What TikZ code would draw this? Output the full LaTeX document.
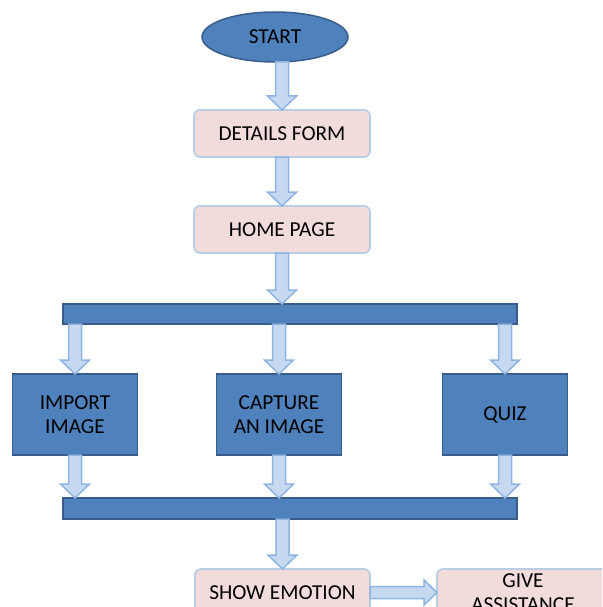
\documentclass[tikz,border=0pt]{standalone}
\usepackage{fontspec}
\setmainfont{Carlito}
\usetikzlibrary{positioning,shapes.geometric,calc}

\definecolor{darkblue}{HTML}{385D8A}
\definecolor{midblue}{HTML}{4F81BD}
\definecolor{paleblue}{HTML}{B9CDE5}
\definecolor{arrowfill}{HTML}{C6D9F1}
\definecolor{arrowline}{HTML}{8DB4E2}
\definecolor{pinkbox}{HTML}{F2DCDB}

% block arrow going down from #1 to #2 (x taken from #2)
\newcommand{\downblk}[2]{%
  \path[blkarrow] let \p1=(#1), \p2=(#2) in
    (\x2-6.5pt,\y1) -- (\x2-6.5pt,\y2+14pt) -- (\x2-14.5pt,\y2+14pt) -- (\x2,\y2)
    -- (\x2+14.5pt,\y2+14pt) -- (\x2+6.5pt,\y2+14pt) -- (\x2+6.5pt,\y1) -- cycle;}
% block arrow going right from #1 to #2 (y taken from #1)
\newcommand{\rightblk}[2]{%
  \path[blkarrow] let \p1=(#1), \p2=(#2) in
    (\x1,\y1+6pt) -- (\x2-13pt,\y1+6pt) -- (\x2-13pt,\y1+12.5pt) -- (\x2,\y1)
    -- (\x2-13pt,\y1-12.5pt) -- (\x2-13pt,\y1-6pt) -- (\x1,\y1-6pt) -- cycle;}

\begin{document}
\begin{tikzpicture}[%
    x=1pt,
    y=1pt,
    font=\fontsize{21.3}{24}\selectfont,
    every node/.style={outer sep=0pt, inner sep=0pt, align=center},
    startnode/.style={%
      ellipse,
      minimum width=146pt,
      minimum height=50pt,
      fill=midblue,
      draw=darkblue,
      line width=1.5pt
    },
    pagebox/.style={%
      rectangle,
      rounded corners=6pt,
      minimum width=176pt,
      minimum height=47pt,
      fill=pinkbox,
      draw=paleblue,
      line width=1.8pt
    },
    taskbox/.style={%
      rectangle,
      minimum width=125pt,
      minimum height=81pt,
      fill=midblue,
      draw=darkblue,
      line width=1.5pt
    },
    barbox/.style={%
      rectangle,
      minimum width=454pt,
      minimum height=20pt,
      fill=midblue,
      draw=darkblue,
      line width=1.5pt
    },
    blkarrow/.style={%
      fill=arrowfill,
      draw=arrowline,
      line width=1.5pt,
      line join=miter
    }
  ]
    \clip (0,0) rectangle (602,-607);

    \node[pagebox] (details) at (282,-133.5)                    {DETAILS FORM};
    \node[startnode] (start) [above=48pt of details, xshift=-7pt] {START};
    \node[pagebox] (home) [below=49pt of details]               {HOME PAGE};
    \node[barbox] (fork) [below=51pt of home, xshift=8pt]       {};
    \node[taskbox] (capture) [below=50pt of fork, xshift=-11pt] {CAPTURE\\AN IMAGE};
    \node[taskbox] (import) [left=79pt of capture]              {IMPORT\\IMAGE};
    \node[taskbox] (quiz) [right=101pt of capture]              {QUIZ};
    \node[barbox, minimum height=21pt] (join) [below=43pt of capture, xshift=11pt] {};
    \node[pagebox, minimum width=175pt] (emotion) [below=50pt of join, xshift=-7.5pt] {SHOW EMOTION};
    \node[pagebox, minimum width=172pt] (assist) [right=67pt of emotion] {GIVE\\ASSISTANCE};

    \downblk{start.south}{details.north}
    \downblk{details.south}{home.north}
    \downblk{home.south}{home.south |- fork.north}
    \downblk{fork.south}{import.north}
    \downblk{fork.south}{capture.north}
    \downblk{fork.south}{quiz.north}
    \downblk{import.south}{import.south |- join.north}
    \downblk{capture.south}{capture.south |- join.north}
    \downblk{quiz.south}{quiz.south |- join.north}
    \downblk{join.south}{emotion.north}
    \rightblk{emotion.east}{assist.west}
  \end{tikzpicture}
\end{document}
